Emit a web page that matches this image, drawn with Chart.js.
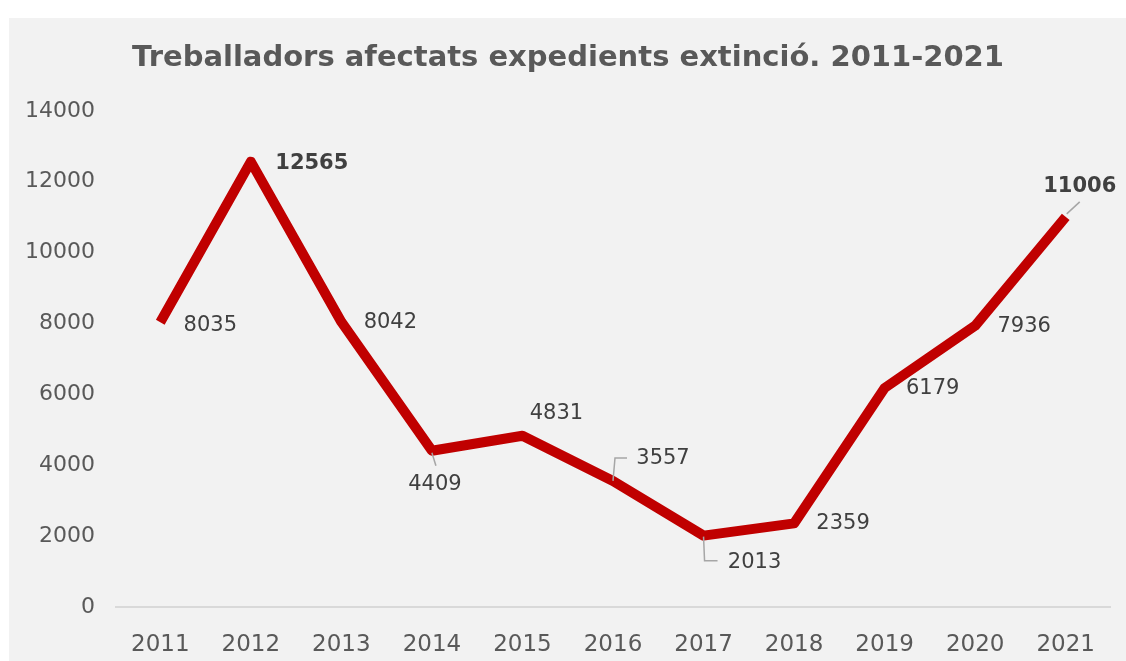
<!DOCTYPE html>
<html>
<head>
<meta charset="utf-8">
<script src="https://cdn.jsdelivr.net/npm/chart.js@4.4.1/dist/chart.umd.min.js"></script>
<style>
  html, body { margin: 0; padding: 0; background: #fff; }
  #wrap { position: absolute; left: 9px; top: 18px; width: 1117px; height: 643px; background: #f2f2f2; }
</style>
</head>
<body>
<div id="wrap"><canvas id="myChart" width="1117" height="643"></canvas></div>
<script>
// values
var years = ['2011', '2012', '2013', '2014', '2015', '2016', '2017', '2018', '2019', '2020', '2021'];
var workers = [8035, 12565, 8042, 4409, 4831, 3557, 2013, 2359, 6179, 7936, 11006];
var boldYears = ['2012', '2021'];

// where each value label sits relative to its point (text centre, px), and its leader line
var labelPos = [
  { dx: 50, dy: 3 },
  { dx: 61, dy: 2 },
  { dx: 49, dy: 1 },
  { dx: 3, dy: 34, leader: [[0, 2], [4, 15]] },
  { dx: 34, dy: -22 },
  { dx: 50, dy: -22, leader: [[0, 0], [2, -23], [14, -23]] },
  { dx: 51, dy: 27, leader: [[0, 1], [1, 25], [14, 25]] },
  { dx: 49, dy: 0 },
  { dx: 48, dy: 1 },
  { dx: 49, dy: 1 },
  { dx: 14, dy: -30, leader: [[1, -3], [14, -15]] }
];

var font = '"DejaVu Sans", Verdana, sans-serif';

var valueLabels = {
  id: 'valueLabels',
  afterDatasetsDraw: function (chart) {
    var ctx = chart.ctx;
    var meta = chart.getDatasetMeta(0);
    ctx.save();
    meta.data.forEach(function (pt, i) {
      var p = labelPos[i];
      if (p.leader) {
        ctx.strokeStyle = '#a6a6a6';
        ctx.lineWidth = 1.5;
        ctx.beginPath();
        p.leader.forEach(function (q, k) {
          if (k === 0) ctx.moveTo(pt.x + q[0], pt.y + q[1]);
          else ctx.lineTo(pt.x + q[0], pt.y + q[1]);
        });
        ctx.stroke();
      }
      var bold = boldYears.indexOf(years[i]) >= 0;
      ctx.font = (bold ? 'bold ' : '') + '21px ' + font;
      ctx.fillStyle = '#404040';
      ctx.textAlign = 'center';
      ctx.textBaseline = 'middle';
      ctx.fillText(String(workers[i]), pt.x + p.dx, pt.y + p.dy);
    });
    ctx.restore();
  }
};

var ctx = document.getElementById('myChart');

var myChart = new Chart(ctx, {
  type: 'line',
  data: {
    labels: years,
    datasets: [{
      label: 'Treballadors afectats',
      data: workers,
      borderColor: '#c00000',
      borderWidth: 10,
      borderJoinStyle: 'round',
      borderCapStyle: 'butt',
      pointRadius: 0,
      pointHoverRadius: 0,
      tension: 0,
      fill: false
    }]
  },
  options: {
    responsive: false,
    animation: false,
    layout: { padding: { left: 16, right: 15, top: 0, bottom: 0 } },
    plugins: {
      legend: { display: false },
      tooltip: { enabled: false },
      title: {
        display: true,
        text: 'Treballadors afectats expedients extinció. 2011-2021',
        color: '#595959',
        font: { family: font, size: 29, weight: 'bold' },
        padding: { top: 23, bottom: 35 }
      }
    },
    scales: {
      x: {
        offset: true,
        grid: { display: false },
        border: { display: false },
        ticks: { color: '#595959', font: { family: font, size: 23 }, padding: 16, maxRotation: 0 },
        afterFit: function (s) { s.height = 54; }
      },
      y: {
        min: 0,
        max: 14000,
        grid: {
          drawTicks: false,
          lineWidth: 2,
          color: function (c) { return c.tick && c.tick.value === 0 ? '#d9d9d9' : 'rgba(0,0,0,0)'; }
        },
        border: { display: false },
        ticks: {
          stepSize: 2000,
          color: '#595959',
          font: { family: font, size: 22 },
          padding: 20,
          callback: function (v) { return String(v); }
        },
        afterFit: function (s) { s.width = 90; }
      }
    }
  },
  plugins: [valueLabels]
});
</script>
</body>
</html>
